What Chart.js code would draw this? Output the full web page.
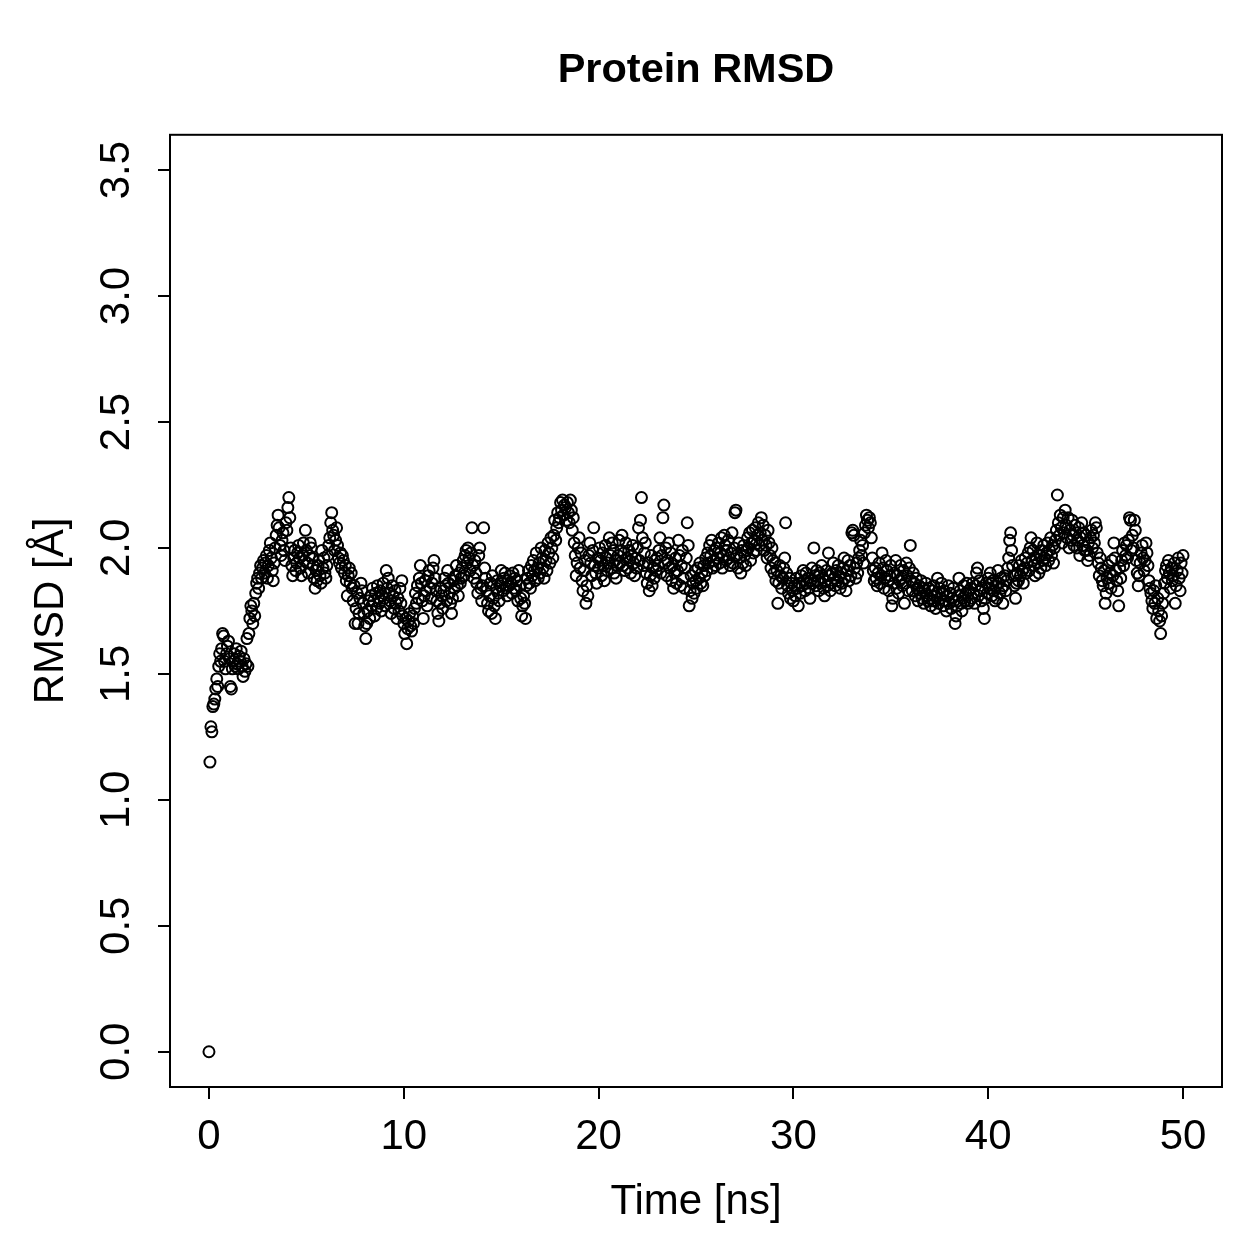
<!DOCTYPE html>
<html>
<head>
<meta charset="utf-8">
<script src="https://cdn.jsdelivr.net/npm/chart.js@4/dist/chart.umd.min.js"></script>
<style>
  body { margin: 0; background: #fff; }
  canvas { display: block; }
</style>
</head>
<body>
<canvas id="rmsd" width="1259" height="1259"></canvas>
<script>
// one frame every 0.05 ns, 0 .. 50 ns
const timeStep = 0.05;

// RMSD in Angstrom, one row per ns (20 frames each)
const rmsd = [
  0.00,1.15,1.29,1.27,1.37,1.38,1.40,1.44,1.48,1.45,1.53,1.58,1.55,1.60,1.66,1.65,1.55,1.52,1.58,1.61,
  1.63,1.56,1.45,1.44,1.52,1.55,1.58,1.53,1.60,1.54,1.52,1.57,1.55,1.59,1.53,1.49,1.56,1.51,1.54,1.64,
  1.53,1.66,1.72,1.77,1.75,1.70,1.78,1.73,1.82,1.86,1.88,1.84,1.90,1.93,1.88,1.92,1.95,1.90,1.94,1.97,
  1.88,1.93,1.99,2.02,1.96,1.91,1.87,1.94,2.00,2.05,2.09,2.13,2.08,2.01,1.97,2.03,2.06,1.99,1.95,2.10,
  2.07,2.16,2.20,2.12,2.00,1.93,1.89,1.96,1.99,1.91,1.94,1.98,2.01,1.96,1.92,1.89,1.97,2.02,1.95,2.07,
  1.99,1.94,1.90,1.97,2.02,2.00,1.96,1.93,1.88,1.84,1.91,1.87,1.93,1.95,1.89,1.86,1.99,1.92,1.96,1.90,
  1.88,1.93,1.97,2.01,2.04,2.10,2.14,2.07,2.05,1.99,2.03,2.08,2.01,1.96,1.94,1.98,1.92,1.97,1.95,1.90,
  1.93,1.87,1.81,1.89,1.92,1.86,1.90,1.84,1.79,1.85,1.70,1.76,1.82,1.70,1.74,1.80,1.86,1.83,1.78,1.74,
  1.69,1.64,1.70,1.75,1.79,1.72,1.81,1.77,1.84,1.79,1.73,1.82,1.76,1.85,1.80,1.78,1.83,1.75,1.81,1.86,
  1.80,1.77,1.91,1.84,1.88,1.82,1.79,1.74,1.85,1.81,1.76,1.83,1.78,1.72,1.80,1.75,1.84,1.78,1.87,1.73,
  1.70,1.66,1.72,1.62,1.68,1.71,1.74,1.69,1.67,1.73,1.70,1.76,1.82,1.78,1.85,1.80,1.88,1.93,1.86,1.79,
  1.72,1.81,1.87,1.83,1.77,1.89,1.91,1.84,1.80,1.86,1.92,1.95,1.88,1.83,1.79,1.74,1.71,1.78,1.84,1.81,
  1.76,1.83,1.88,1.85,1.79,1.91,1.86,1.82,1.78,1.74,1.80,1.87,1.84,1.89,1.93,1.85,1.81,1.90,1.86,1.88,
  1.92,1.95,1.89,1.97,1.99,1.94,2.00,1.96,1.91,1.98,2.08,1.93,1.88,1.95,1.90,1.86,1.82,1.97,2.00,1.84,
  1.79,1.85,2.08,1.92,1.88,1.83,1.78,1.75,1.81,1.86,1.74,1.89,1.80,1.77,1.72,1.84,1.87,1.82,1.79,1.85,
  1.91,1.86,1.83,1.88,1.90,1.84,1.81,1.87,1.85,1.89,1.86,1.82,1.90,1.84,1.88,1.83,1.87,1.79,1.91,1.85,
  1.80,1.73,1.77,1.81,1.78,1.72,1.85,1.88,1.91,1.86,1.84,1.93,1.89,1.95,1.91,1.87,1.98,1.92,1.88,1.94,
  1.90,2.00,1.96,1.92,1.88,1.99,1.95,1.91,2.02,1.98,1.94,2.04,2.00,1.96,2.05,2.11,2.03,2.08,2.14,2.10,
  2.12,2.18,2.15,2.19,2.13,2.17,2.16,2.11,2.18,2.14,2.10,2.19,2.15,2.07,2.12,2.02,1.97,1.89,1.94,2.00,
  2.04,1.92,1.98,1.87,1.83,1.91,1.95,1.78,1.85,1.81,1.97,2.02,1.94,1.89,1.99,2.08,1.93,1.90,1.86,1.96,
  1.92,2.00,1.95,1.89,1.98,1.93,1.87,2.01,1.96,1.91,1.94,2.04,1.97,1.92,2.02,1.99,1.90,1.95,1.88,1.93,
  1.97,2.03,1.94,1.99,2.05,1.93,1.98,1.91,2.02,1.96,1.92,1.99,1.95,1.90,1.97,2.01,1.94,1.89,1.96,1.92,
  2.00,2.08,1.95,2.11,2.20,2.04,1.93,1.98,2.02,1.90,1.86,1.94,1.83,1.89,1.97,1.85,1.92,1.88,1.95,1.91,
  1.96,1.93,1.99,2.04,1.90,1.97,2.12,2.17,1.94,2.00,1.89,1.95,2.02,1.92,1.98,1.87,1.93,1.84,1.90,1.96,
  1.86,1.91,2.03,1.97,1.85,1.93,1.99,1.88,1.84,1.92,1.96,2.10,2.01,1.77,1.83,1.89,1.80,1.86,1.82,1.91,
  1.87,1.84,1.92,1.88,1.94,1.86,1.90,1.85,1.93,1.89,1.96,1.91,1.98,1.94,2.01,1.97,2.03,1.92,1.95,1.99,
  1.93,2.00,1.96,2.02,1.94,1.98,2.04,1.92,1.97,2.05,2.01,1.95,1.99,2.03,1.96,1.93,1.98,2.06,1.94,2.00,
  2.14,2.15,1.97,1.92,2.02,1.96,1.90,1.99,1.94,2.01,1.97,1.93,1.99,2.04,2.00,2.06,1.95,2.02,2.07,1.98,
  2.03,2.08,1.99,2.05,2.10,2.01,2.06,2.12,2.03,2.09,1.99,2.05,2.01,1.96,2.07,2.02,1.97,1.92,2.00,1.95,
  1.90,1.94,1.87,1.91,1.78,1.86,1.93,1.89,1.84,1.88,1.92,1.96,2.10,1.90,1.85,1.82,1.88,1.80,1.86,1.83,
  1.79,1.85,1.81,1.88,1.84,1.77,1.86,1.82,1.89,1.85,1.91,1.87,1.83,1.90,1.86,1.88,1.84,1.80,1.87,1.92,
  1.86,2.00,1.89,1.85,1.91,1.87,1.83,1.90,1.86,1.93,1.88,1.84,1.81,1.87,1.91,1.85,1.98,1.89,1.83,1.86,
  1.90,1.94,1.88,1.85,1.91,1.87,1.93,1.89,1.84,1.90,1.86,1.92,1.96,1.88,1.83,1.91,1.95,1.87,1.93,1.89,
  2.06,2.07,2.05,1.92,1.88,1.94,1.90,1.96,1.99,2.03,1.97,2.01,1.94,2.06,2.09,2.13,2.11,2.08,2.12,2.10,
  2.04,1.96,1.91,1.87,1.92,1.88,1.85,1.90,1.94,1.86,1.89,1.98,1.92,1.84,1.88,1.95,1.91,1.87,1.83,1.89,
  1.93,1.77,1.80,1.86,1.90,1.95,1.84,1.89,1.82,1.87,1.93,1.88,1.85,1.91,1.78,1.86,1.94,1.89,1.83,1.92,
  2.01,1.87,1.83,1.90,1.86,1.81,1.88,1.84,1.79,1.85,1.82,1.87,1.80,1.84,1.78,1.83,1.86,1.81,1.79,1.84,
  1.80,1.77,1.83,1.79,1.85,1.81,1.76,1.82,1.88,1.78,1.84,1.80,1.86,1.82,1.77,1.83,1.79,1.75,1.81,1.85,
  1.78,1.82,1.76,1.80,1.84,1.79,1.70,1.73,1.77,1.81,1.88,1.83,1.78,1.75,1.80,1.85,1.79,1.82,1.86,1.78,
  1.83,1.79,1.84,1.80,1.86,1.82,1.78,1.85,1.90,1.92,1.81,1.87,1.83,1.79,1.84,1.76,1.72,1.80,1.86,1.82,
  1.88,1.84,1.90,1.86,1.81,1.87,1.83,1.79,1.85,1.80,1.91,1.86,1.82,1.88,1.84,1.78,1.85,1.89,1.83,1.87,
  1.92,1.96,2.03,2.06,1.99,1.93,1.89,1.85,1.80,1.86,1.90,1.87,1.93,1.89,1.95,1.91,1.86,1.92,1.96,1.90,
  1.94,1.98,1.91,2.00,2.04,1.95,1.99,1.93,1.89,1.96,2.02,1.94,1.90,1.97,1.92,1.99,1.95,2.01,1.96,1.93,
  1.98,2.02,1.95,1.99,2.04,1.97,2.01,1.94,2.00,2.03,2.07,2.21,2.10,2.05,2.13,2.08,2.02,2.12,2.06,2.15,
  2.09,2.04,2.12,2.00,2.07,2.03,2.11,2.05,2.01,2.09,2.06,2.00,2.03,2.08,1.97,2.04,2.10,2.01,2.06,1.99,
  2.05,1.99,1.95,2.02,1.97,2.04,2.07,2.00,2.05,2.02,2.10,2.08,1.98,1.94,1.89,1.96,1.92,1.87,1.85,1.91,
  1.78,1.82,1.88,1.93,1.86,1.90,1.84,1.95,1.89,2.02,1.96,1.91,1.87,1.83,1.77,1.92,1.88,1.95,1.99,1.93,
  2.02,1.97,2.01,1.96,2.03,2.12,2.11,1.99,2.05,2.00,2.11,2.07,1.95,1.90,1.85,1.89,1.94,1.98,2.01,1.96,
  1.91,1.95,2.02,1.98,1.93,1.87,1.84,1.82,1.79,1.76,1.83,1.78,1.85,1.72,1.80,1.75,1.71,1.66,1.73,1.78,
  1.82,1.86,1.91,1.93,1.88,1.95,1.90,1.84,1.92,1.87,1.89,1.94,1.78,1.85,1.91,1.96,1.88,1.83,1.94,1.90,
  1.97
];

const points = rmsd.map((v, i) => ({ x: i * timeStep, y: v }));

const FONT = "'Liberation Sans', Arial, Helvetica, sans-serif";

// R-style closed box round the plot region
const boxPlugin = {
  id: "box",
  afterDraw(chart) {
    const { ctx, chartArea: a } = chart;
    ctx.save();
    ctx.strokeStyle = "#000";
    ctx.lineWidth = 2;
    ctx.strokeRect(a.left, a.top, a.right - a.left, a.bottom - a.top);
    ctx.restore();
  }
};

new Chart(document.getElementById("rmsd"), {
  type: "scatter",
  data: {
    datasets: [{
      data: points,
      pointStyle: "circle",
      pointRadius: 5.5,
      pointBorderWidth: 2,
      pointBorderColor: "#000",
      pointBackgroundColor: "rgba(0,0,0,0)",
      showLine: false
    }]
  },
  options: {
    responsive: false,
    animation: false,
    layout: { padding: { left: 0, right: 37, top: 0, bottom: 0 } },
    plugins: {
      legend: { display: false },
      tooltip: { enabled: false },
      title: {
        display: true,
        text: "Protein RMSD",
        fullSize: false,
        color: "#000",
        font: { family: FONT, size: 41.5, weight: "bold", lineHeight: 1.2 },
        padding: { top: 46, bottom: 39 }
      }
    },
    scales: {
      x: {
        type: "linear",
        min: -2,
        max: 52,
        border: { display: false },
        grid: { drawOnChartArea: false, drawTicks: true, tickLength: 12, tickColor: "#000", lineWidth: 2 },
        ticks: {
          stepSize: 10,
          includeBounds: false,
          color: "#000",
          padding: 13,
          font: { family: FONT, size: 42 },
          maxRotation: 0
        },
        title: {
          display: true,
          text: "Time [ns]",
          color: "#000",
          font: { family: FONT, size: 42 },
          padding: { top: 0, bottom: 31 }
        },
        afterFit(scale) { scale.height = 172; }
      },
      y: {
        type: "linear",
        min: -0.14,
        max: 3.64,
        border: { display: false },
        grid: { drawOnChartArea: false, drawTicks: true, tickLength: 12, tickColor: "#000", lineWidth: 2 },
        ticks: {
          stepSize: 0.5,
          includeBounds: false,
          color: "#000",
          padding: 11,
          minRotation: 90,
          maxRotation: 90,
          crossAlign: "center",
          font: { family: FONT, size: 42 },
          callback: (v) => v.toFixed(1)
        },
        title: {
          display: true,
          text: "RMSD [Å]",
          color: "#000",
          font: { family: FONT, size: 42 },
          padding: { top: 26, bottom: 0 }
        },
        afterFit(scale) { scale.width = 170; }
      }
    }
  },
  plugins: [boxPlugin]
});
</script>
</body>
</html>
